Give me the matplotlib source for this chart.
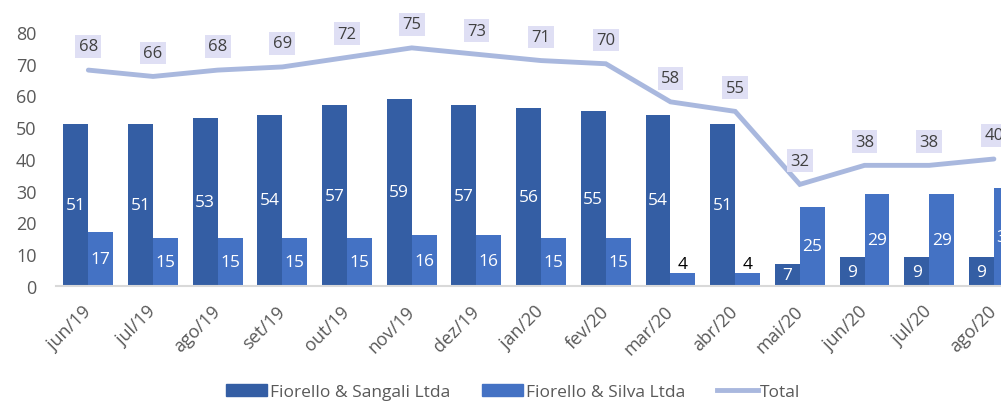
import matplotlib
matplotlib.use('Agg')
import matplotlib.pyplot as plt
import numpy as np
from matplotlib.patches import Patch
from matplotlib.lines import Line2D

plt.rcParams['font.family'] = ['Open Sans', 'DejaVu Sans']

# Data
months = ['jun/19', 'jul/19', 'ago/19', 'set/19', 'out/19', 'nov/19', 'dez/19', 'jan/20',
          'fev/20', 'mar/20', 'abr/20', 'mai/20', 'jun/20', 'jul/20', 'ago/20']
sangali = [51, 51, 53, 54, 57, 59, 57, 56, 55, 54, 51, 7, 9, 9, 9]
silva = [17, 15, 15, 15, 15, 16, 16, 15, 15, 4, 4, 25, 29, 29, 31]
total = [68, 66, 68, 69, 72, 75, 73, 71, 70, 58, 55, 32, 38, 38, 40]

c_dark = '#345ea4'
c_light = '#4472c4'
c_line = '#a9b8de'
c_box = '#dfdff4'
c_text = '#595959'

fig = plt.figure(figsize=(10.01, 4.02), dpi=100)
ax = fig.add_axes([56 / 1001, 115 / 402, 1 - 56 / 1001, (287 - 33) / 402])

x = np.arange(len(months))
w = 0.386
ax.bar(x - w / 2, sangali, w, color=c_dark, label='Fiorello & Sangali Ltda')
ax.bar(x + w / 2, silva, w, color=c_light, label='Fiorello & Silva Ltda')
ax.plot(x, total, color=c_line, lw=3.5, solid_capstyle='round', solid_joinstyle='miter', label='Total')

# bar labels
for xi, v in zip(x, sangali):
    ax.text(xi - w / 2, v / 2, f'{v}', ha='center', va='center', color='white', fontsize=12.5)
for xi, v in zip(x, silva):
    if v < 6:
        ax.text(xi + w / 2, v + 0.3, f'{v}', ha='center', va='bottom', color='black', fontsize=12.5)
    else:
        ax.text(xi + w / 2, v / 2, f'{v}', ha='center', va='center', color='white', fontsize=12.5)

# total labels
for xi, v in zip(x, total):
    ax.annotate(f'{v}', (xi, v), xytext=(0, 17), textcoords='offset points', ha='center', va='center',
                fontsize=12, color='#404040', annotation_clip=False,
                bbox=dict(boxstyle='square,pad=0.2', fc=c_box, ec='none'))

ax.set_xlim(-0.5, 14.11)
ax.set_ylim(0, 80)
ax.set_yticks(range(0, 81, 10))
ax.set_xticks(x)
ax.set_xticklabels(months, rotation=45, ha='right', va='center', rotation_mode='anchor',
                   fontsize=13, color=c_text)
ax.tick_params(axis='y', length=0, pad=14, labelsize=13, labelcolor=c_text)
ax.tick_params(axis='x', length=0, pad=16)
for s in ['top', 'right', 'left']:
    ax.spines[s].set_visible(False)
ax.spines['bottom'].set_color('#d9d9d9')
ax.spines['bottom'].set_linewidth(1.5)

handles = [Patch(color=c_dark), Patch(color=c_light), Line2D([], [], color=c_line, lw=3.5)]
labels = ['Fiorello & Sangali Ltda', 'Fiorello & Silva Ltda', 'Total']
fig.legend(handles, labels, loc='center', bbox_to_anchor=(0.513, 0.022), ncol=3, frameon=False,
           fontsize=12.5, labelcolor=c_text, handlelength=2.35, handleheight=0.7, columnspacing=1.85,
           handletextpad=0.15, borderpad=0)

fig.savefig('out.png', dpi=100)
